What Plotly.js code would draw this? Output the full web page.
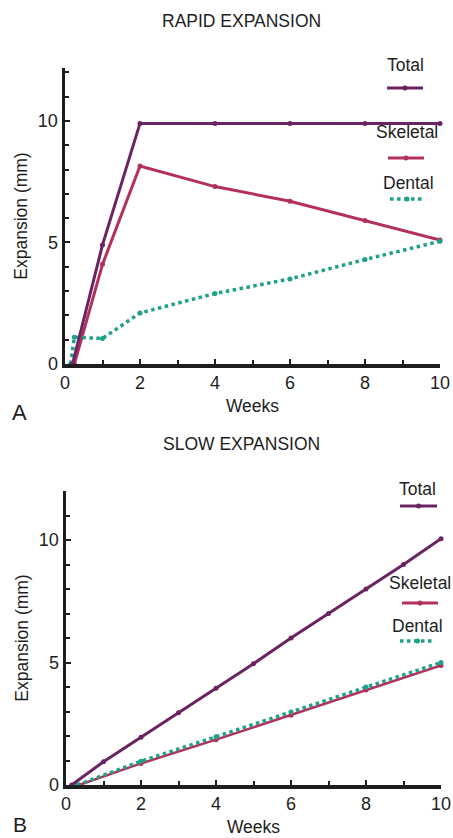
<!DOCTYPE html>
<html><head><meta charset="utf-8">
<script src="https://cdn.plot.ly/plotly-3.0.1.min.js"></script>
<style>html,body{margin:0;padding:0;background:#fff;}#chart{width:453px;height:838px;}</style>
</head><body><div id="chart"></div>
<script>
// Panel A: rapid expansion
const rapidTotalX = [0.2, 1, 2, 4, 6, 8, 10];
const rapidTotalY = [0, 4.9, 9.9, 9.9, 9.9, 9.9, 9.9];
const rapidSkeletalX = [0.25, 1, 2, 4, 6, 8, 10];
const rapidSkeletalY = [0, 4.1, 8.15, 7.3, 6.7, 5.9, 5.1];
const rapidDentalX = [0.15, 0.25, 1, 2, 4, 6, 8, 10];
const rapidDentalY = [0, 1.1, 1.05, 2.1, 2.9, 3.5, 4.3, 5.05];
// Panel B: slow expansion
const slowTotalX = [0.15, 1, 2, 3, 4, 5, 6, 7, 8, 9, 10];
const slowTotalY = [0, 0.95, 1.95, 2.95, 3.95, 4.95, 6.0, 7.0, 8.0, 9.0, 10.05];
const slowSkeletalX = [0.35, 2, 4, 6, 8, 10];
const slowSkeletalY = [0, 0.88, 1.85, 2.85, 3.88, 4.88];
const slowDentalX = [0.3, 2, 4, 6, 8, 10];
const slowDentalY = [0, 0.97, 1.97, 2.98, 4.0, 5.0];
const seriesNames = ["Total", "Skeletal", "Dental"];
const panelTitles = ["RAPID EXPANSION", "SLOW EXPANSION"];
const panelLetters = ["A", "B"];
const xTickVals = [0, 2, 4, 6, 8, 10];
const yTickVals = [0, 5, 10];

const cTotal = "#6b2462", cSkel = "#b3305a", cDent = "#1fa089";
function tr(x, y, color, dash, xa, ya, w) {
  return {x: x, y: y, xaxis: xa, yaxis: ya, mode: "lines+markers", type: "scatter",
    line: {color: color, width: w, dash: dash}, marker: {color: color, size: 5},
    cliponaxis: false, showlegend: false, hoverinfo: "skip"};
}
const data = [
  tr(rapidSkeletalX, rapidSkeletalY, cSkel, "solid", "x", "y", 3),
  tr(rapidDentalX, rapidDentalY, cDent, "dot", "x", "y", 3.5),
  tr(rapidTotalX, rapidTotalY, cTotal, "solid", "x", "y", 3),
  tr(slowSkeletalX, slowSkeletalY, cSkel, "solid", "x2", "y2", 2.5),
  tr(slowDentalX, slowDentalY, cDent, "dot", "x2", "y2", 3.5),
  tr(slowTotalX, slowTotalY, cTotal, "solid", "x2", "y2", 3)
];
const fnt = {family: "Liberation Sans, Arial, sans-serif", color: "#1e1e1e"};
function xaxis(dom, anchor) {
  return {domain: dom, anchor: anchor, range: [0, 10], tickvals: xTickVals, ticks: "inside", ticklen: 5, tickwidth: 2,
    tickcolor: "#1e1e1e", showline: true, linecolor: "#1e1e1e", linewidth: 3.5, showgrid: false, zeroline: false,
    tickfont: Object.assign({size: 18}, fnt),
    minor: {dtick: 1, tick0: 0, ticks: "inside", ticklen: 4, tickwidth: 2, tickcolor: "#1e1e1e", showgrid: false},
    title: {text: "Weeks", font: Object.assign({size: 17.5}, fnt), standoff: 8}};
}
function yaxis(dom, anchor, top) {
  return {domain: dom, anchor: anchor, range: [0, top], tickvals: yTickVals, ticks: "inside", ticklen: 5, tickwidth: 2,
    tickcolor: "#1e1e1e", showline: true, linecolor: "#1e1e1e", linewidth: 3.5, showgrid: false, zeroline: false,
    tickfont: Object.assign({size: 18}, fnt),
    minor: {dtick: 1, tick0: 0, ticks: "inside", ticklen: 4, tickwidth: 2, tickcolor: "#1e1e1e", showgrid: false},
    title: {text: "Expansion (mm)", font: Object.assign({size: 17.5}, fnt), standoff: 6}};
}
const W = 453, H = 838;
const px = v => v / W, py = v => 1 - v / H;
const annotations = [];
const shapes = [];
function ann(text, x, y, size) {
  annotations.push({text: text, x: px(x), y: py(y), xref: "paper", yref: "paper", showarrow: false,
    xanchor: "center", yanchor: "middle", borderpad: 0, font: Object.assign({size: size}, fnt)});
}
ann(panelTitles[0], 242, 21, 17.5);
ann(panelTitles[1], 242, 444, 17.5);
ann(panelLetters[0], 19.5, 413, 22);
ann(panelLetters[1], 20, 824, 21);
const legendA = [[405, 65, 387, 423, 88], [407, 132, 388, 424, 158], [408, 183, 390, 424, 199]];
const legendB = [[417, 489, 400, 437, 506], [420, 583, 402, 438, 603], [417, 626, 400, 435, 641]];
const cols = [cTotal, cSkel, cDent];
[legendA, legendB].forEach(L => {
  L.forEach((e, i) => {
    ann(seriesNames[i], e[0], e[1], 17.5);
    shapes.push({type: "line", xref: "paper", yref: "paper", x0: px(e[2]), x1: px(e[3]), y0: py(e[4]), y1: py(e[4]),
      line: {color: cols[i], width: i === 2 ? 3.5 : 3, dash: i === 2 ? "dot" : "solid"}});
    const cx = (e[2] + e[3]) / 2;
    shapes.push({type: "circle", xref: "paper", yref: "paper", x0: px(cx - 2.5), x1: px(cx + 2.5), y0: py(e[4] + 2.5), y1: py(e[4] - 2.5),
      fillcolor: cols[i], line: {width: 0}});
  });
});
const layout = {
  width: W, height: H, margin: {l: 0, r: 0, t: 0, b: 0}, paper_bgcolor: "#fff", plot_bgcolor: "rgba(0,0,0,0)",
  showlegend: false, font: fnt,
  xaxis: xaxis([65 / W, 440 / W], "y"),
  yaxis: yaxis([1 - 364 / H, 1 - 68 / H], "x", 12.18),
  xaxis2: xaxis([66 / W, 441 / W], "y2"),
  yaxis2: yaxis([1 - 785 / H, 1 - 491 / H], "x2", 12.0),
  annotations: annotations, shapes: shapes
};
Plotly.newPlot("chart", data, layout, {staticPlot: true});
</script></body></html>
